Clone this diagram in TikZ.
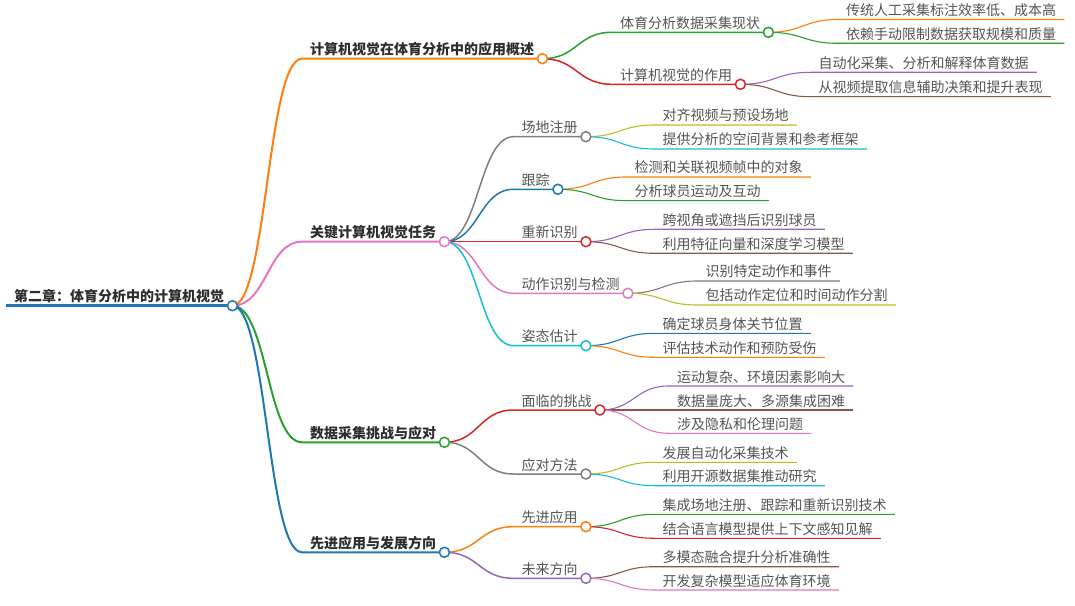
\documentclass[tikz,border=0pt]{standalone}
\usepackage{fontspec}
\setmainfont{Noto Sans CJK SC}
\usetikzlibrary{calc}
\definecolor{cblue}{HTML}{1F77B4}
\definecolor{corange}{HTML}{FF7F0E}
\definecolor{cgreen}{HTML}{2CA02C}
\definecolor{cred}{HTML}{D62728}
\definecolor{cpurple}{HTML}{9467BD}
\definecolor{cbrown}{HTML}{8C564B}
\definecolor{cpink}{HTML}{E377C2}
\definecolor{cgray}{HTML}{7F7F7F}
\definecolor{colive}{HTML}{BCBD22}
\definecolor{ccyan}{HTML}{17BECF}
\definecolor{txtdark}{HTML}{2E2E2E}
\definecolor{txtlight}{HTML}{555555}
\tikzset{
  tbold/.style={font=\fontsize{14bp}{16bp}\selectfont\bfseries, text=txtdark, inner sep=0pt, anchor=base west},
  tnorm/.style={font=\fontsize{14bp}{16bp}\selectfont, text=txtlight, inner sep=0pt, anchor=base west},
  lw0/.style={line width=2.5bp},
  lw1/.style={line width=2bp},
  lw2/.style={line width=1.5bp},
  lw3/.style={line width=1.1bp},
  knob/.style={circle, fill=white, line width=1.5bp, minimum size=10bp, inner sep=0pt},
}
% node: name, style, text x, line y, text
\newcommand\mm[5]{%
  \node[#2] (#1) at (#3,#4-4) {#5};
  \coordinate (#1-s) at ([shift={(-8bp,-4bp)}]#1.base west);
  \coordinate (#1-e) at ([shift={(8bp,-4bp)}]#1.base east);
}
% link from parent to child, then the child's underline
\newcommand\lk[3]{%
  \draw[#3] let \p1=(#1-e), \p2=(#2-s) in (\p1) .. controls ({(\x1+\x2)/2},\y1) and ({(\x1+\x2)/2},\y2) .. (\p2) -- (#2-e);
}
\newcommand\kn[2]{\node[knob, draw=#2] (#1-k) at (#1-e) {};}
\begin{document}
\begin{tikzpicture}[x=1bp, y=-1bp]
\useasboundingbox[fill=white] (0,0) rectangle (1075,606);
% ---------- texts ----------
\mm{r}{tbold}{14}{305.7}{第二章：体育分析中的计算机视觉}
\mm{a}{tbold}{310}{58.7}{计算机视觉在体育分析中的应用概述}
\mm{b}{tbold}{310}{241.7}{关键计算机视觉任务}
\mm{c}{tbold}{310}{442.3}{数据采集挑战与应对}
\mm{d}{tbold}{310}{552.3}{先进应用与发展方向}
% a
\mm{aa}{tnorm}{620}{32.3}{体育分析数据采集现状}
\mm{ab}{tnorm}{620}{84.3}{计算机视觉的作用}
\mm{aaa}{tnorm}{846}{19.5}{传统人工采集标注效率低、成本高}
\mm{aab}{tnorm}{846}{43.3}{依赖手动限制数据获取规模和质量}
\mm{aba}{tnorm}{818.5}{72.3}{自动化采集、分析和解释体育数据}
\mm{abb}{tnorm}{818.5}{96.7}{从视频提取信息辅助决策和提升表现}
% b
\mm{ba}{tnorm}{521.5}{136.7}{场地注册}
\mm{bb}{tnorm}{521.5}{189.3}{跟踪}
\mm{bc}{tnorm}{521.5}{241.7}{重新识别}
\mm{bd}{tnorm}{521.5}{293.3}{动作识别与检测}
\mm{be}{tnorm}{521.5}{345.7}{姿态估计}
\mm{baa}{tnorm}{662.5}{125}{对齐视频与预设场地}
\mm{bab}{tnorm}{662.5}{149}{提供分析的空间背景和参考框架}
\mm{bba}{tnorm}{634.5}{177}{检测和关联视频帧中的对象}
\mm{bbb}{tnorm}{634.5}{200.7}{分析球员运动及互动}
\mm{bca}{tnorm}{662.5}{229.3}{跨视角或遮挡后识别球员}
\mm{bcb}{tnorm}{662.5}{253.3}{利用特征向量和深度学习模型}
\mm{bda}{tnorm}{705.5}{281}{识别特定动作和事件}
\mm{bdb}{tnorm}{705.5}{305}{包括动作定位和时间动作分割}
\mm{bea}{tnorm}{662.5}{333.3}{确定球员身体关节位置}
\mm{beb}{tnorm}{662.5}{357.3}{评估技术动作和预防受伤}
% c
\mm{ca}{tnorm}{521.5}{410}{面临的挑战}
\mm{cb}{tnorm}{521.5}{474}{应对方法}
\mm{caa}{tnorm}{677}{386}{运动复杂、环境因素影响大}
\mm{cab}{tnorm}{677}{410}{数据量庞大、多源集成困难}
\mm{cac}{tnorm}{677}{433.3}{涉及隐私和伦理问题}
\mm{cba}{tnorm}{662.5}{462.3}{发展自动化采集技术}
\mm{cbb}{tnorm}{662.5}{485.7}{利用开源数据集推动研究}
% d
\mm{da}{tnorm}{521.5}{526.7}{先进应用}
\mm{db}{tnorm}{521.5}{578.3}{未来方向}
\mm{daa}{tnorm}{662.5}{514.3}{集成场地注册、跟踪和重新识别技术}
\mm{dab}{tnorm}{662.5}{538.3}{结合语言模型提供上下文感知见解}
\mm{dba}{tnorm}{662.5}{566.7}{多模态融合提升分析准确性}
\mm{dbb}{tnorm}{662.5}{590}{开发复杂模型适应体育环境}
% ---------- lines ----------
\draw[lw0, cblue] (r-s) -- (r-e);
\lk{r}{a}{lw1, corange}
\lk{r}{b}{lw1, cpink}
\lk{r}{c}{lw1, cgreen}
\lk{r}{d}{lw1, cblue}
\lk{a}{aa}{lw2, cgreen}
\lk{a}{ab}{lw2, cred}
\lk{aa}{aaa}{lw3, corange}
\lk{aa}{aab}{lw3, cgreen}
\lk{ab}{aba}{lw3, cpurple}
\lk{ab}{abb}{lw3, cbrown}
\lk{b}{ba}{lw2, cgray}
\lk{b}{bb}{lw2, cblue}
\lk{b}{bc}{lw2, cred}
\lk{b}{bd}{lw2, cpink}
\lk{b}{be}{lw2, ccyan}
\lk{ba}{baa}{lw3, colive}
\lk{ba}{bab}{lw3, ccyan}
\lk{bb}{bba}{lw3, corange}
\lk{bb}{bbb}{lw3, cgreen}
\lk{bc}{bca}{lw3, cpurple}
\lk{bc}{bcb}{lw3, cbrown}
\lk{bd}{bda}{lw3, cgray}
\lk{bd}{bdb}{lw3, colive}
\lk{be}{bea}{lw3, cblue}
\lk{be}{beb}{lw3, corange}
\lk{c}{ca}{lw2, cred}
\lk{c}{cb}{lw2, cgray}
\lk{ca}{caa}{lw3, cpurple}
\lk{ca}{cab}{lw3, cbrown}
\lk{ca}{cac}{lw3, cpink}
\lk{cb}{cba}{lw3, colive}
\lk{cb}{cbb}{lw3, ccyan}
\lk{d}{da}{lw2, corange}
\lk{d}{db}{lw2, cpurple}
\lk{da}{daa}{lw3, cgreen}
\lk{da}{dab}{lw3, cred}
\lk{db}{dba}{lw3, cbrown}
\lk{db}{dbb}{lw3, cpink}
% ---------- knobs ----------
\kn{r}{cblue}
\kn{a}{corange}
\kn{b}{cpink}
\kn{c}{cgreen}
\kn{d}{cblue}
\kn{aa}{cgreen}
\kn{ab}{cred}
\kn{ba}{cgray}
\kn{bb}{cblue}
\kn{bc}{cred}
\kn{bd}{cpink}
\kn{be}{ccyan}
\kn{ca}{cred}
\kn{cb}{cgray}
\kn{da}{corange}
\kn{db}{cpurple}
\end{tikzpicture}
\end{document}
